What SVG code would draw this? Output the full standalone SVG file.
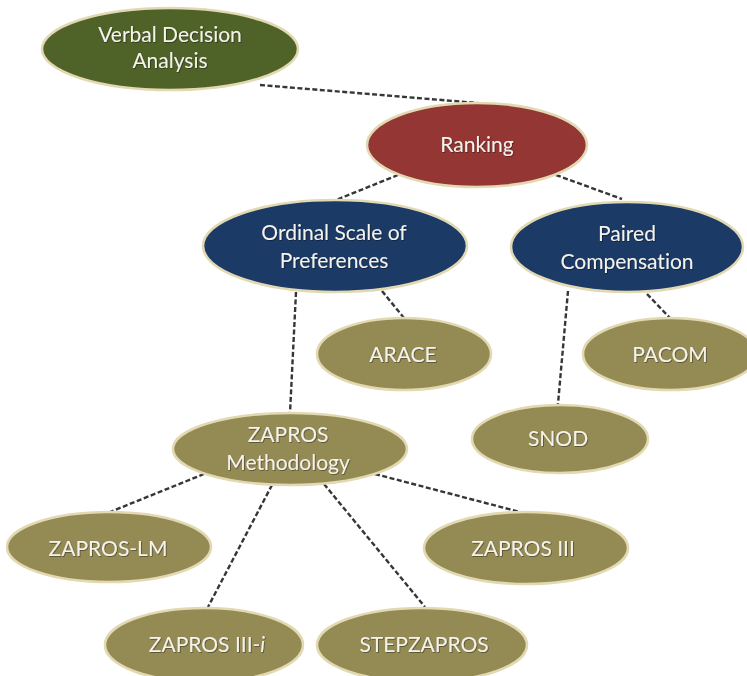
<svg xmlns="http://www.w3.org/2000/svg" width="747" height="676" viewBox="0 0 747 676">
  <style>
    .edge { stroke: #363636; stroke-width: 2.4; stroke-dasharray: 5 2.5; fill: none; }
    .node ellipse { stroke: #e2d9b2; stroke-width: 2.6; }
    .green { fill: #4f6228; }
    .red { fill: #943634; }
    .blue { fill: #1b3a66; }
    .olive { fill: #948a54; }
    text { font-family: Lato, "Open Sans", "Liberation Sans", sans-serif; font-size: 21px; fill: #f4f2ec; text-anchor: middle; font-variant-ligatures: none; filter: url(#txtShadow); }
  </style>
  <defs>
    <filter id="txtShadow" x="-10%" y="-30%" width="120%" height="160%">
      <feDropShadow dx="0.8" dy="0.8" stdDeviation="0.6" flood-color="#000" flood-opacity="0.45"/>
    </filter>
  </defs>
  <rect width="747" height="676" fill="#ffffff"/>

  <!-- dashed connectors -->
  <g id="connectors">
    <line class="edge" x1="260" y1="85" x2="478" y2="103"/>
    <line class="edge" x1="398" y1="175" x2="336" y2="200"/>
    <line class="edge" x1="556" y1="175" x2="622" y2="199"/>
    <line class="edge" x1="296" y1="292" x2="290" y2="413"/>
    <line class="edge" x1="382" y1="291" x2="404" y2="318"/>
    <line class="edge" x1="568" y1="291" x2="558" y2="404"/>
    <line class="edge" x1="647" y1="294" x2="670" y2="318"/>
    <line class="edge" x1="204" y1="474" x2="110" y2="512"/>
    <line class="edge" x1="272" y1="485" x2="208" y2="607"/>
    <line class="edge" x1="324" y1="484" x2="425" y2="607"/>
    <line class="edge" x1="375" y1="474" x2="520" y2="512"/>
  </g>

  <g id="verbal-decision-analysis" class="node">
    <ellipse class="green" cx="170" cy="49" rx="128" ry="41"/>
    <text x="170" y="42">Verbal Decision</text>
    <text x="170" y="68">Analysis</text>
  </g>

  <g id="ranking" class="node">
    <ellipse class="red" cx="477" cy="145" rx="110" ry="42"/>
    <text x="477" y="152">Ranking</text>
  </g>

  <g id="ordinal-scale" class="node">
    <ellipse class="blue" cx="335" cy="246" rx="132" ry="46"/>
    <text x="334" y="240">Ordinal Scale of</text>
    <text x="334" y="268">Preferences</text>
  </g>

  <g id="paired-compensation" class="node">
    <ellipse class="blue" cx="627" cy="247" rx="116" ry="45"/>
    <text x="627" y="241">Paired</text>
    <text x="627" y="269">Compensation</text>
  </g>

  <g id="arace" class="node">
    <ellipse class="olive" cx="404" cy="354" rx="87" ry="36"/>
    <text x="403" y="362">ARACE</text>
  </g>

  <g id="pacom" class="node">
    <ellipse class="olive" cx="670" cy="354" rx="87" ry="36"/>
    <text x="670" y="362">PACOM</text>
  </g>

  <g id="snod" class="node">
    <ellipse class="olive" cx="560" cy="439" rx="88" ry="34"/>
    <text x="558" y="446">SNOD</text>
  </g>

  <g id="zapros-methodology" class="node">
    <ellipse class="olive" cx="290" cy="449" rx="117" ry="36"/>
    <text x="288" y="442">ZAPROS</text>
    <text x="288" y="470">Methodology</text>
  </g>

  <g id="zapros-lm" class="node">
    <ellipse class="olive" cx="109" cy="547" rx="102" ry="35"/>
    <text x="108" y="556">ZAPROS-LM</text>
  </g>

  <g id="zapros-iii" class="node">
    <ellipse class="olive" cx="526" cy="548" rx="102" ry="36"/>
    <text x="523" y="556">ZAPROS III</text>
  </g>

  <g id="zapros-iii-i" class="node">
    <ellipse class="olive" cx="204" cy="645" rx="99" ry="37"/>
    <text x="207" y="652">ZAPROS III-<tspan font-style="italic">i</tspan></text>
  </g>

  <g id="stepzapros" class="node">
    <ellipse class="olive" cx="422" cy="645" rx="105" ry="37"/>
    <text x="424" y="652">STEPZAPROS</text>
  </g>
</svg>
